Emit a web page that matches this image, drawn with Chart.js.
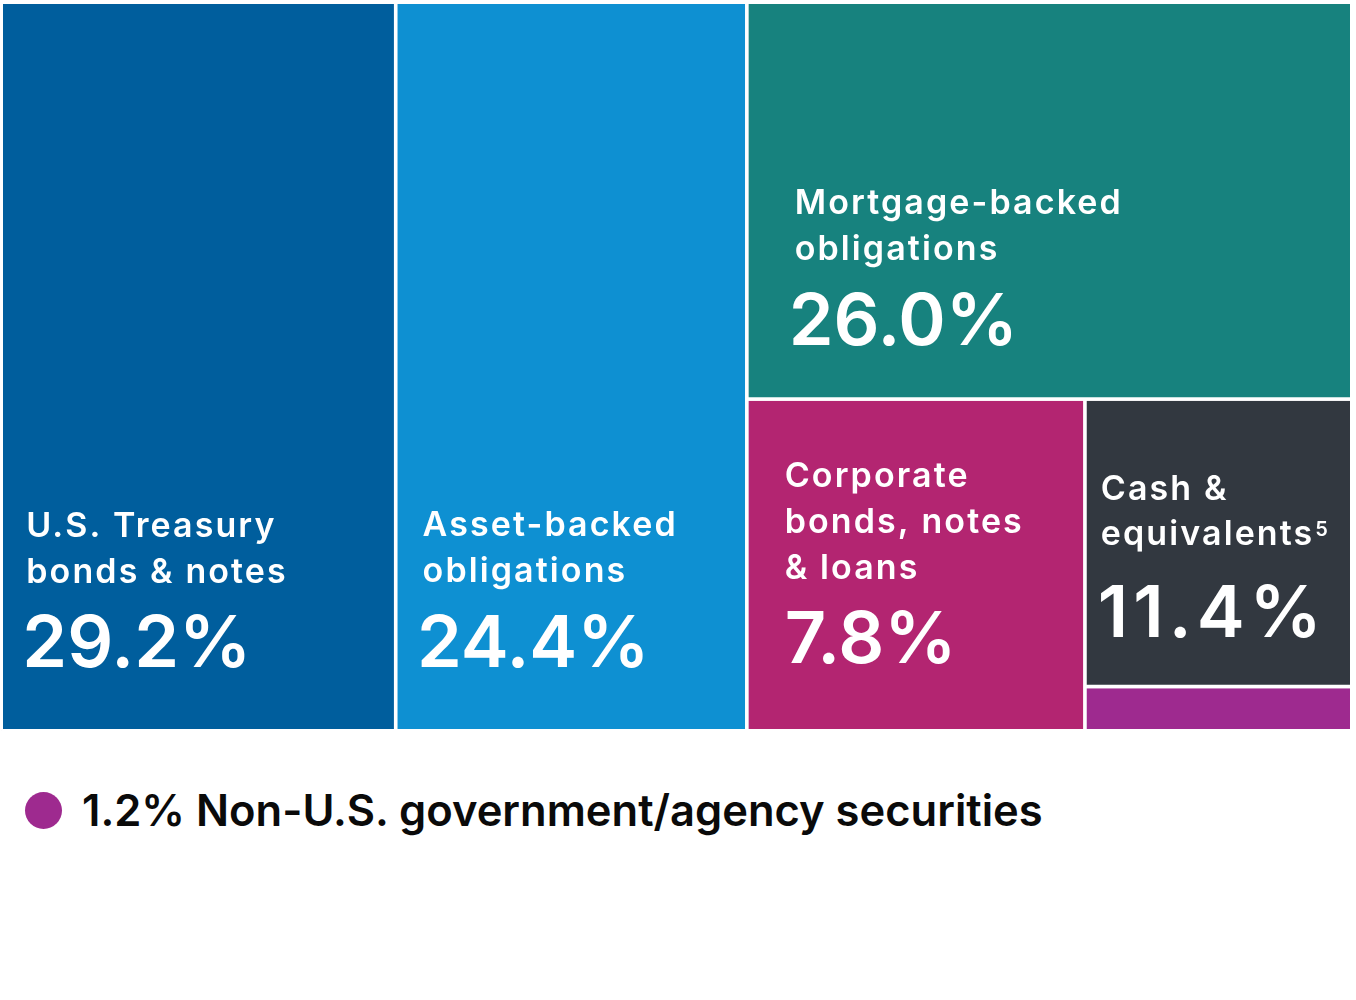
<!DOCTYPE html>
<html>
<head>
<meta charset="utf-8">
<script src="https://cdn.jsdelivr.net/npm/chart.js@4.4.1/dist/chart.umd.min.js"></script>
<style>
  body { margin: 0; background: #fff; }
  #wrap { position: relative; width: 1356px; height: 1000px; }
  #legend { position: absolute; left: 25px; top: 788px; display: flex; align-items: center;
            font: 600 43.5px Inter, sans-serif; color: #0a0a0a; line-height: 45px; white-space: nowrap; }
  #legend .dot { width: 37px; height: 37px; border-radius: 50%; margin-right: 20px; }
</style>
</head>
<body>
<div id="wrap">
  <canvas id="treemap" width="1356" height="733"></canvas>
  <div id="legend"></div>
</div>
<script>
// categories in reading order (left to right, top to bottom)
const categories = ['U.S. Treasury bonds & notes', 'Asset-backed obligations', 'Mortgage-backed obligations',
                    'Corporate bonds, notes & loans', 'Cash & equivalents', 'Non-U.S. government/agency securities'];
const nameLines = [['U.S. Treasury', 'bonds & notes'], ['Asset-backed', 'obligations'], ['Mortgage-backed', 'obligations'],
                   ['Corporate', 'bonds, notes', '& loans'], ['Cash &', 'equivalents'], []];
const shares = [29.2, 24.4, 26.0, 7.8, 11.4, 1.2];
const footnotes = ['', '', '', '', '5', ''];
const inLegend = [false, false, false, false, false, true];

const colors = ['#005e9d', '#0e90d2', '#17827e', '#b32571', '#323840', '#9e2a8f'];
// label placement inside each tile (px)
const labelStyle = [
    { padName: 25, padValue: 21, valueBottom: 63.7, nameGap: 84, step: 46, valueSpacing: 0 },
    { padName: 27, padValue: 21.5, valueBottom: 63.7, nameGap: 85, step: 46, valueSpacing: 0 },
    { padName: 48, padValue: 42, valueBottom: 54, nameGap: 85, step: 46, valueSpacing: 0 },
    { padName: 38, padValue: 38, valueBottom: 67.7, nameGap: 84, step: 46, valueSpacing: 0 },
    { padName: 16, padValue: 13, valueBottom: 49.5, nameGap: 92, step: 45, valueSpacing: 5 },
    null
];
const NAME_FONT = '600 34px Inter';
const NAME_SPACING = '2.1px';
const PLOT_ASPECT = 1350 / 728;

// cut tiles biggest first, always across the longer side of what's left
function sliceLayout(values, aspect) {
    const sizes = values.slice().sort((a, b) => b - a);
    let rest = sizes.reduce((a, b) => a + b, 0);
    const box = { x0: 0, x1: 100, y0: 0, y1: 100 };
    const tiles = [];
    sizes.forEach((v, i) => {
        if (i === sizes.length - 1) { tiles.push({ ...box }); return; }
        const f = v / rest;
        const w = box.x1 - box.x0, h = box.y1 - box.y0;
        if (w * aspect >= h) {
            const cut = box.x0 + w * f;
            tiles.push({ x0: box.x0, x1: cut, y0: box.y0, y1: box.y1 });
            box.x0 = cut;
        } else {
            const cut = box.y1 - h * f;
            tiles.push({ x0: box.x0, x1: box.x1, y0: cut, y1: box.y1 });
            box.y1 = cut;
        }
        rest -= v;
    });
    return tiles;
}

const tiles = sliceLayout(shares, PLOT_ASPECT);

const tileLabels = {
    id: 'tileLabels',
    afterDatasetsDraw(chart) {
        const { ctx, scales: { x, y } } = chart;
        ctx.save();
        ctx.fillStyle = '#fff';
        ctx.textBaseline = 'alphabetic';
        tiles.forEach((t, i) => {
            const s = labelStyle[i];
            if (!s) return;
            const left = x.getPixelForValue(t.x0);
            const base = y.getPixelForValue(t.y0) - s.valueBottom;
            ctx.font = '600 72px Inter';
            ctx.letterSpacing = s.valueSpacing + 'px';
            ctx.fillText(shares[i].toFixed(1) + '%', left + s.padValue, base);
            ctx.font = NAME_FONT;
            ctx.letterSpacing = NAME_SPACING;
            const lines = nameLines[i];
            lines.forEach((ln, k) => {
                const ly = base - s.nameGap - (lines.length - 1 - k) * s.step;
                ctx.fillText(ln, left + s.padName, ly);
                if (k === lines.length - 1 && footnotes[i]) {
                    const w = ctx.measureText(ln).width;
                    ctx.font = '600 20px Inter';
                    ctx.letterSpacing = '0px';
                    ctx.fillText(footnotes[i], left + s.padName + w + 1, ly - 9);
                    ctx.font = NAME_FONT;
                    ctx.letterSpacing = NAME_SPACING;
                }
            });
        });
        ctx.restore();
    }
};

new Chart(document.getElementById('treemap'), {
    type: 'scatter',
    data: {
        datasets: tiles.map((t, i) => ({
            label: categories[i],
            data: [{ x: t.x0, y: t.y0 }, { x: t.x0, y: t.y1 }, { x: t.x1, y: t.y1 }, { x: t.x1, y: t.y0 }, { x: t.x0, y: t.y0 }],
            showLine: true,
            fill: 'shape',
            backgroundColor: colors[i],
            borderColor: '#fff',
            borderWidth: 3.4,
            pointRadius: 0,
            pointHoverRadius: 0,
            tension: 0,
            clip: false
        }))
    },
    options: {
        responsive: false,
        animation: false,
        layout: { padding: { left: 1.3, right: 4.3, top: 2.3, bottom: 2.3 } },
        scales: {
            x: { type: 'linear', min: 0, max: 100, display: false },
            y: { type: 'linear', min: 0, max: 100, display: false }
        },
        plugins: { legend: { display: false }, tooltip: { enabled: false } }
    },
    plugins: [tileLabels]
});

// legend for the sliver that's too small to label
const legendEl = document.getElementById('legend');
categories.forEach((c, i) => {
    if (!inLegend[i]) return;
    legendEl.innerHTML += `<span class="dot" style="background:${colors[i]}"></span><span>${shares[i].toFixed(1)}% ${c}</span>`;
});
</script>
</body>
</html>
